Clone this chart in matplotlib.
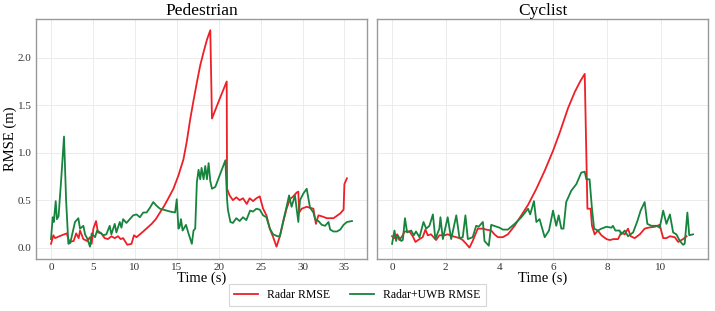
import matplotlib
matplotlib.use("Agg")
import matplotlib.pyplot as plt

plt.rcParams['font.family'] = ['Liberation Serif', 'DejaVu Serif']

# Pedestrian
ped_t_radar = [0, 0.28, 0.5, 1.0, 1.87, 2.2, 2.7, 3.0, 3.3, 3.46, 3.86, 4.3, 4.65, 4.85, 5.05,
               5.37, 5.6, 6.0, 6.4, 6.8, 7.2, 7.6, 8.0, 8.3, 8.6, 9.1, 9.6, 9.9, 10.2, 10.6,
               11.0, 11.5, 12.0, 12.5, 13.0, 13.5, 14.0, 14.6, 15.2, 15.8, 16.2, 16.6, 17.0,
               17.4, 17.8, 18.2, 18.6, 19.0, 19.2, 19.6, 20.0, 20.5, 20.96, 21.0, 21.3, 21.7,
               22.1, 22.5, 22.9, 23.35, 23.7, 24.1, 24.5, 24.9, 25.3, 25.7, 26.1, 26.5, 26.9,
               27.3, 27.7, 28.1, 28.5, 28.9, 29.3, 29.5, 29.6, 29.9, 30.5, 30.9, 31.3, 31.6,
               31.9, 32.3, 32.9, 33.7, 34.5, 34.9, 35.0, 35.3]
ped_radar = [0.04, 0.13, 0.1, 0.12, 0.15, 0.06, 0.07, 0.15, 0.1, 0.18, 0.09, 0.07, 0.11, 0.04, 0.2,
             0.28, 0.16, 0.15, 0.1, 0.09, 0.12, 0.1, 0.12, 0.09, 0.1, 0.03, 0.04, 0.13, 0.11, 0.14,
             0.17, 0.21, 0.25, 0.3, 0.37, 0.44, 0.52, 0.62, 0.76, 0.93, 1.12, 1.35, 1.55,
             1.74, 1.92, 2.06, 2.19, 2.29, 1.36, 1.45, 1.54, 1.65, 1.75, 0.62, 0.55, 0.5,
             0.53, 0.5, 0.52, 0.46, 0.52, 0.49, 0.52, 0.54, 0.41, 0.34, 0.2, 0.11, 0.01,
             0.12, 0.27, 0.41, 0.51, 0.54, 0.58, 0.59, 0.37, 0.41, 0.43, 0.42, 0.41, 0.25,
             0.34, 0.33, 0.31, 0.31, 0.36, 0.4, 0.67, 0.73]

ped_t_uwb = [0, 0.2, 0.33, 0.56, 0.7, 0.9, 1.2, 1.55, 1.8, 2.07, 2.3, 2.86, 3.26, 3.46, 3.86,
             4.06, 4.3, 4.65, 4.85, 5.25, 5.5, 5.85, 6.25, 6.6, 7.0, 7.2, 7.6, 7.8, 8.2, 8.4,
             8.6, 9.0, 9.4, 9.8, 10.2, 10.6, 11.0, 11.4, 11.8, 12.2, 12.6, 13.0, 13.4, 14.2,
             14.8, 15.0, 15.2, 15.35, 15.5, 15.7, 16.1, 16.4, 16.8, 17.0, 17.2, 17.4, 17.6,
             17.8, 17.96, 18.2, 18.4, 18.6, 18.8, 19.0, 19.2, 19.6, 20.2, 20.8, 21.0, 21.1,
             21.4, 21.7, 22.1, 22.5, 22.9, 23.3, 23.75, 24.1, 24.5, 24.9, 25.3, 25.7, 26.1,
             26.5, 27.0, 27.3, 27.7, 28.1, 28.4, 28.7, 29.1, 29.5, 29.7, 30.1, 30.5, 30.7,
             30.9, 31.3, 31.5, 31.9, 32.3, 32.7, 33.1, 33.3, 33.7, 34.1, 34.5, 34.9, 35.3, 35.9]
ped_uwb = [0.09, 0.32, 0.27, 0.49, 0.3, 0.33, 0.7, 1.17, 0.5, 0.04, 0.05, 0.27, 0.31, 0.2, 0.23,
           0.14, 0.1, 0.01, 0.15, 0.11, 0.18, 0.16, 0.13, 0.14, 0.23, 0.14, 0.25, 0.16, 0.27, 0.21,
           0.3, 0.26, 0.3, 0.34, 0.35, 0.32, 0.37, 0.37, 0.42, 0.48, 0.44, 0.41, 0.4, 0.38,
           0.37, 0.51, 0.2, 0.22, 0.3, 0.18, 0.24, 0.15, 0.04, 0.18, 0.2, 0.69, 0.82,
           0.72, 0.84, 0.72, 0.86, 0.72, 0.89, 0.7, 0.62, 0.64, 0.78, 0.92, 0.51, 0.4,
           0.27, 0.26, 0.31, 0.28, 0.32, 0.29, 0.39, 0.38, 0.41, 0.4, 0.34, 0.32, 0.2,
           0.14, 0.12, 0.12, 0.28, 0.43, 0.55, 0.43, 0.55, 0.27, 0.5, 0.57, 0.62, 0.52,
           0.42, 0.37, 0.3, 0.28, 0.24, 0.23, 0.27, 0.19, 0.17, 0.17, 0.19, 0.24, 0.27, 0.28]

# Cyclist
cyc_t_radar = [0, 0.09, 0.19, 0.27, 0.4, 0.46, 0.65, 0.77, 0.87, 1.02, 1.14, 1.24, 1.33, 1.45,
               1.64, 1.76, 1.95, 2.07, 2.26, 2.39, 2.51, 2.63, 2.76, 2.88, 3.0, 3.19, 3.38,
               3.5, 3.69, 3.81, 3.94, 4.12, 4.31, 4.56, 4.81, 5.06, 5.37, 5.68, 5.99, 6.25,
               6.55, 6.8, 7.0, 7.17, 7.27, 7.39, 7.44, 7.54, 7.66, 7.79, 7.98, 8.1, 8.25, 8.41,
               8.53, 8.66, 8.78, 8.88, 9.03, 9.22, 9.4, 9.53, 9.78, 9.96, 10.09, 10.21, 10.34,
               10.52, 10.65, 10.83, 10.96]
cyc_radar = [0.12, 0.1, 0.14, 0.08, 0.13, 0.17, 0.17, 0.12, 0.06, 0.09, 0.11, 0.19, 0.13, 0.14,
             0.08, 0.13, 0.13, 0.14, 0.12, 0.11, 0.1, 0.08, 0.04, 0.0, 0.07, 0.2, 0.2,
             0.19, 0.18, 0.14, 0.11, 0.11, 0.14, 0.23, 0.34, 0.45, 0.62, 0.81, 1.02, 1.22,
             1.47, 1.64, 1.75, 1.83, 0.41, 0.41, 0.23, 0.14, 0.18, 0.13, 0.09, 0.08, 0.09, 0.09,
             0.16, 0.14, 0.2, 0.12, 0.1, 0.14, 0.2, 0.21, 0.22, 0.24, 0.1, 0.1, 0.12,
             0.11, 0.06, 0.09, 0.12]

cyc_t_uwb = [0, 0.09, 0.15, 0.21, 0.34, 0.4, 0.48, 0.56, 0.71, 0.81, 0.89, 1.02, 1.17, 1.27,
             1.39, 1.52, 1.61, 1.76, 1.8, 1.89, 2.07, 2.2, 2.39, 2.51, 2.63, 2.73, 2.82, 3.0,
             3.13, 3.22, 3.38, 3.44, 3.6, 3.69, 4.0, 4.12, 4.31, 4.56, 4.81, 5.06, 5.14, 5.28,
             5.37, 5.49, 5.68, 5.84, 5.99, 6.11, 6.2, 6.3, 6.38, 6.48, 6.67, 6.86, 7.04, 7.17,
             7.23, 7.35, 7.44, 7.52, 7.66, 7.79, 7.98, 8.16, 8.22, 8.31, 8.47, 8.53, 8.66,
             8.78, 8.97, 9.13, 9.25, 9.4, 9.5, 9.65, 9.84, 9.96, 10.09, 10.21, 10.34, 10.46,
             10.58, 10.71, 10.83, 10.89, 10.99, 11.06, 11.2]
cyc_uwb = [0.04, 0.18, 0.07, 0.13, 0.07, 0.08, 0.31, 0.16, 0.18, 0.13, 0.17, 0.11, 0.27, 0.2,
           0.23, 0.35, 0.09, 0.2, 0.32, 0.09, 0.32, 0.09, 0.34, 0.1, 0.11, 0.34, 0.09, 0.11,
           0.23, 0.22, 0.27, 0.07, 0.02, 0.24, 0.21, 0.19, 0.19, 0.25, 0.32, 0.41, 0.35, 0.49,
           0.27, 0.3, 0.11, 0.18, 0.39, 0.23, 0.34, 0.2, 0.2, 0.48, 0.6, 0.67, 0.79, 0.8,
           0.72, 0.72, 0.41, 0.2, 0.18, 0.2, 0.22, 0.21, 0.23, 0.18, 0.18, 0.14, 0.18,
           0.12, 0.16, 0.28, 0.39, 0.48, 0.25, 0.23, 0.23, 0.21, 0.39, 0.25, 0.35, 0.16,
           0.14, 0.07, 0.03, 0.04, 0.37, 0.13, 0.14]

red = '#ee1f26'
green = '#17843d'

fig = plt.figure(figsize=(7.15, 3.11), dpi=100)
ax1 = fig.add_axes([0.0503, 0.1688, 0.463, 0.769])
ax2 = fig.add_axes([0.5273, 0.1688, 0.463, 0.769], sharey=ax1)

panels = [
    (ax1, 'Pedestrian', ped_t_radar, ped_radar, ped_t_uwb, ped_uwb, [0, 5, 10, 15, 20, 25, 30, 35]),
    (ax2, 'Cyclist', cyc_t_radar, cyc_radar, cyc_t_uwb, cyc_uwb, [0, 2, 4, 6, 8, 10]),
]
for ax, title, tr, r, tu, u, xt in panels:
    ax.plot(tr, r, color=red, lw=1.3, label='Radar RMSE')
    ax.plot(tu, u, color=green, lw=1.3, label='Radar+UWB RMSE')
    ax.set_title(title, fontsize=12.5, pad=3)
    ax.set_xlabel('Time (s)', fontsize=10.5, labelpad=0)
    ax.set_xticks(xt)
    ax.grid(True, color='#ececec', lw=0.7)
    ax.set_axisbelow(True)
    ax.tick_params(length=0, labelsize=8, pad=3, colors='#333333')
    for s in ax.spines.values():
        s.set_color('#999999')
        s.set_linewidth(1.0)

ax1.set_yticks([0, 0.5, 1.0, 1.5, 2.0])
ax1.set_ylabel('RMSE (m)', fontsize=10.5, labelpad=1)
ax2.tick_params(labelleft=False)

h, l = ax1.get_legend_handles_labels()
leg = fig.legend(h, l, loc='center', bbox_to_anchor=(0.5, 0.052), ncol=2, fontsize=8.5,
                 frameon=True, fancybox=False, edgecolor='#cccccc', handlelength=2.0,
                 handletextpad=0.8, columnspacing=1.7, borderpad=0.4)
leg.get_frame().set_linewidth(0.8)

fig.savefig('out.png', dpi=100)
